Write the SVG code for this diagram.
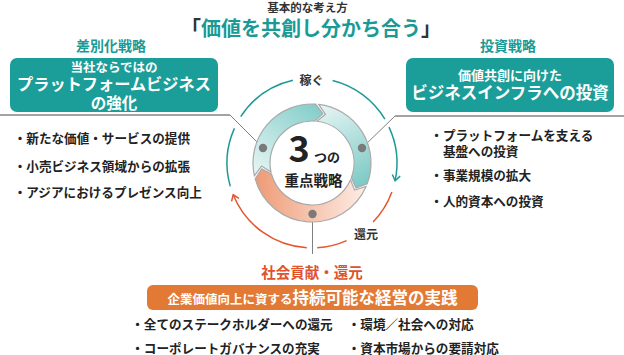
<svg xmlns="http://www.w3.org/2000/svg" width="624" height="355" viewBox="0 0 624 355">
<style>
text{font-family:"Noto Sans CJK JP","Noto Sans",sans-serif;}
.t{fill:#1a9a95;font-weight:700;}
.w{fill:#fff;font-weight:700;}
.b{fill:#222;font-weight:600;font-size:12.6px;}
.arcT{fill:none;stroke:#1a9a96;stroke-width:1.5;}
.arcO{fill:none;stroke:#e4572e;stroke-width:1.5;}
.gl{fill:none;stroke:#a3a3a3;stroke-width:2;}
.gd{fill:none;stroke:#808080;stroke-width:1;}
.dot{fill:#7a7a7a;}
.seg{stroke:#aaaaaa;stroke-width:1.2;}
</style>
<defs>
<marker id="ahT" markerWidth="10" markerHeight="10" refX="7" refY="5" orient="auto" markerUnits="userSpaceOnUse"><path d="M1.5,1 L7,5 L1.5,9" fill="none" stroke="#1a9a96" stroke-width="1.5"/></marker>
<marker id="ahO" markerWidth="10" markerHeight="10" refX="7" refY="5" orient="auto" markerUnits="userSpaceOnUse"><path d="M1.5,1 L7,5 L1.5,9" fill="none" stroke="#e4572e" stroke-width="1.5"/></marker>
<linearGradient id="gL" gradientUnits="userSpaceOnUse" x1="262" y1="176" x2="316" y2="106"><stop offset="0" stop-color="#e4f4f3"/><stop offset="1" stop-color="#84ceca"/></linearGradient>
<linearGradient id="gR" gradientUnits="userSpaceOnUse" x1="320" y1="106" x2="362" y2="184"><stop offset="0" stop-color="#e6f5f4"/><stop offset="1" stop-color="#7ecac6"/></linearGradient>
<linearGradient id="gB" gradientUnits="userSpaceOnUse" x1="366" y1="185" x2="256" y2="178"><stop offset="0" stop-color="#fdece4"/><stop offset="1" stop-color="#ee9b76"/></linearGradient>
</defs>

<g id="connectors">
<path class="arcT" d="M332.6,80.5 A85 85 0 0 1 384.9,119.2"/>
<path class="arcT" d="M389.0,127.1 A85 85 0 0 1 395.1,180.7" marker-end="url(#ahT)"/>
<path class="arcO" d="M391.9,192.1 A85 85 0 0 1 373.1,222.0"/>
<path class="arcO" d="M346.6,240.6 A85 85 0 0 1 317.2,247.8"/>
<path class="arcO" d="M306.8,247.8 A85 85 0 0 1 233.2,194.8" marker-end="url(#ahO)"/>
<path class="arcT" d="M230.3,186.4 A85 85 0 0 1 234.4,128.4"/>
<path class="arcT" d="M240.7,116.7 A85 85 0 0 1 292.9,80.2"/>
<path class="gl" d="M0,115 H230"/>
<path class="gd" d="M230,115 L263,148"/>
<path class="gl" d="M624,116 H395"/>
<path class="gd" d="M395,116 L362,148"/>
<path class="gd" d="M312.5,214 V254"/>
</g>

<g id="ring">
<path class="seg" fill="url(#gL)" d="M254.40,175.77 A59 59 0 0 1 315.60,104.11 L322.93,113.70 L314.56,121.08 A42 42 0 0 0 271.00,172.09 L261.60,166.08 Z"/>
<path class="seg" fill="url(#gR)" d="M318.68,104.38 A59 59 0 0 1 367.27,183.66 L355.96,187.87 L351.34,177.71 A42 42 0 0 0 316.75,121.27 L325.50,114.34 Z"/>
<path class="seg" fill="url(#gB)" d="M366.11,186.53 A59 59 0 0 1 255.15,178.77 L261.82,168.72 L271.53,174.22 A42 42 0 0 0 350.52,179.75 L354.59,190.13 Z"/>
<circle class="dot" cx="263" cy="148" r="4.2"/>
<circle class="dot" cx="362" cy="148" r="4.2"/>
<circle class="dot" cx="312.5" cy="214" r="4.2"/>
</g>

<g id="center">
<text x="299" y="162" text-anchor="middle" font-size="36" font-weight="700" fill="#222">3</text>
<text x="314" y="162" font-size="13" font-weight="700" fill="#222">つの</text>
<text x="313.5" y="186" text-anchor="middle" font-size="14.5" font-weight="700" fill="#222">重点戦略</text>
</g>

<g id="title">
<text x="307.5" y="12" text-anchor="middle" font-size="11.5" font-weight="700" fill="#333">基本的な考え方</text>
<text x="311" y="35.5" text-anchor="middle" font-size="20" font-weight="700" fill="#1a9a95"><tspan fill="#333">「</tspan>価値を共創し分かち合う<tspan fill="#333">」</tspan></text>
</g>

<g id="label-kasegu"><text x="311.5" y="85" text-anchor="middle" font-size="12" font-weight="600" fill="#333">稼ぐ</text></g>
<g id="label-kangen"><text x="366" y="239" text-anchor="middle" font-size="12" font-weight="600" fill="#333">還元</text></g>

<g id="left-node">
<text class="t" x="111" y="51" text-anchor="middle" font-size="14">差別化戦略</text>
<rect x="10" y="58" width="208" height="54" rx="7" fill="#1b9e99"/>
<text class="w" x="114" y="71.5" text-anchor="middle" font-size="12.5">当社ならではの</text>
<text class="w" x="114" y="90" text-anchor="middle" font-size="16.2">プラットフォームビジネス</text>
<text class="w" x="114" y="108.5" text-anchor="middle" font-size="15.5">の強化</text>
<text class="b" x="13.7" y="143">・新たな価値・サービスの提供</text>
<text class="b" x="13.7" y="171">・小売ビジネス領域からの拡張</text>
<text class="b" x="13.7" y="197">・アジアにおけるプレゼンス向上</text>
</g>

<g id="right-node">
<text class="t" x="508" y="51" text-anchor="middle" font-size="14">投資戦略</text>
<rect x="406" y="58" width="208" height="54" rx="7" fill="#1b9e99"/>
<text class="w" x="510" y="80" text-anchor="middle" font-size="13">価値共創に向けた</text>
<text class="w" x="510" y="99" text-anchor="middle" font-size="16.5">ビジネスインフラへの投資</text>
<text class="b" x="430.3" y="140">・プラットフォームを支える</text>
<text class="b" x="442.9" y="155.5">基盤への投資</text>
<text class="b" x="430.3" y="180">・事業規模の拡大</text>
<text class="b" x="430.3" y="206">・人的資本への投資</text>
</g>

<g id="bottom-node">
<text x="312" y="278" text-anchor="middle" font-size="14.5" font-weight="700" fill="#e0522a">社会貢献・還元</text>
<rect x="147" y="285" width="331" height="25" rx="6" fill="#e27a36"/>
<text class="w" x="312.5" y="304" text-anchor="middle"><tspan font-size="12.5">企業価値向上に資する</tspan><tspan font-size="16.5">持続可能な経営の実践</tspan></text>
<text class="b" x="131.2" y="329">・全てのステークホルダーへの還元</text>
<text class="b" x="131.2" y="352.5">・コーポレートガバナンスの充実</text>
<text class="b" x="347.7" y="329">・環境／社会への対応</text>
<text class="b" x="347.7" y="352.5">・資本市場からの要請対応</text>
</g>
</svg>
